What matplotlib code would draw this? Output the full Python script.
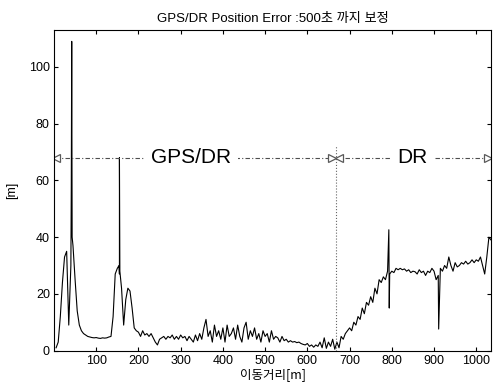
# GPS/DR position error along travelled distance

import numpy as np
import matplotlib.pyplot as plt

plt.rcParams['font.family'] = ['Liberation Sans', 'Noto Sans CJK KR', 'DejaVu Sans']

# error sampled every 5 m from 5 m to 1035 m
base_dist = np.arange(5, 1036, 5)
base_err = [
    1, 3, 12, 24, 33, 35, 9, 30, 37, 25,            # 5 - 50
    14, 9, 7, 6, 5.5, 5, 4.8, 4.6, 4.5, 4.6,        # 55 - 100
    4.4, 4.3, 4.5, 4.4, 4.5, 4.8, 5, 12, 27, 29,    # 105 - 150
    27, 22, 9, 18, 22, 21, 15, 8, 7, 6.5,           # 155 - 200
    5, 7, 5.5, 6, 5, 6, 4.5, 3, 2, 4,               # 205 - 250
    4.5, 5, 4, 5, 4.5, 5.5, 4, 5, 4, 5.5,           # 255 - 300
    4.5, 5, 3.5, 5, 4, 3, 5.5, 3.5, 6, 4,           # 305 - 350
    8, 11, 5, 7, 3, 9, 5, 7, 4, 8,                  # 355 - 400
    3, 9, 5, 6, 8, 4, 9, 5, 3, 8,                   # 405 - 450
    10, 4, 7, 5, 8, 4, 6, 3, 7, 5,                  # 455 - 500
    6, 3, 7, 4, 5, 4.5, 3, 5, 3.5, 4,               # 505 - 550
    3, 3.5, 3, 3.2, 2.8, 3, 2.5, 2.2, 2, 2.5,       # 555 - 600
    1.5, 2, 1.2, 2, 1.5, 3, 1, 4.5, 0.8, 3,         # 605 - 650
    1.5, 4, 0.5, 3, 1, 5, 4, 6, 7, 8,               # 655 - 700
    7, 10, 9, 12, 11, 15, 13, 17, 16, 19,           # 705 - 750
    17, 22, 20, 25, 24, 26, 25, 28, 27, 28,         # 755 - 800
    27.5, 29, 28.5, 29, 28.5, 28.8, 28, 28.5, 27.5, 28,  # 805 - 850
    27.8, 27, 28.5, 27.5, 28, 26.5, 28, 27.5, 29, 28,    # 855 - 900
    25, 26.5, 29, 28, 30, 29, 33, 30, 28, 31,       # 905 - 950
    29.5, 30, 31, 30.5, 31.5, 30.5, 31, 32, 31, 32,  # 955 - 1000
    31.5, 33, 30, 27, 33, 40, 39,                   # 1005 - 1035
]

# isolated spikes
spike_dist = [41, 42, 43, 154, 155, 156, 793, 794, 911]
spike_err = [58, 109, 40, 30, 68, 28, 42.6, 15, 7.6]

dist = np.concatenate([base_dist, spike_dist])
err = np.concatenate([base_err, spike_err])
order = np.argsort(dist, kind='stable')
dist, err = dist[order], err[order]

switch_x = 667       # where GPS correction stops
band_y = 68

fig = plt.figure(figsize=(4.93, 3.9), dpi=100)
ax = fig.add_axes([0.1095, 0.101, 0.8865, 0.822])

ax.plot(dist, err, color='black', lw=0.8)

# GPS/DR and DR span markers
ax.plot([3, 1030], [band_y, band_y], color='0.3', lw=0.8, dashes=(4, 2, 1, 2))
ax.plot([switch_x, switch_x], [0, 72], color='0.4', lw=0.8, ls=':')
for x, m in [(5, '<'), (659, '>'), (675, '<'), (1027, '>')]:
    ax.plot(x, band_y, marker=m, ms=6, mfc='white', mec='0.35', mew=0.9)
ax.text(325, band_y, 'GPS/DR', fontsize=15, ha='center', va='center',
        bbox=dict(fc='white', ec='none', pad=5))
ax.text(848, band_y, 'DR', fontsize=15, ha='center', va='center',
        bbox=dict(fc='white', ec='none', pad=5))

ax.set_xlim(0, 1035)
ax.set_ylim(0, 113)
ax.set_xticks(range(100, 1001, 100))
ax.set_yticks(range(0, 101, 20))
ax.tick_params(direction='in', top=True, right=True, length=3, labelsize=9, pad=3)

ax.set_title('GPS/DR Position Error :500초 까지 보정', fontsize=9.5, pad=6,
             family=['Liberation Sans', 'Noto Sans CJK KR'])
ax.set_xlabel('이동거리[m]', fontsize=9, labelpad=1,
              family=['Noto Sans CJK KR', 'Liberation Sans'])
ax.set_ylabel('[m]', fontsize=9, labelpad=8)

fig.savefig('out.png', dpi=100)
